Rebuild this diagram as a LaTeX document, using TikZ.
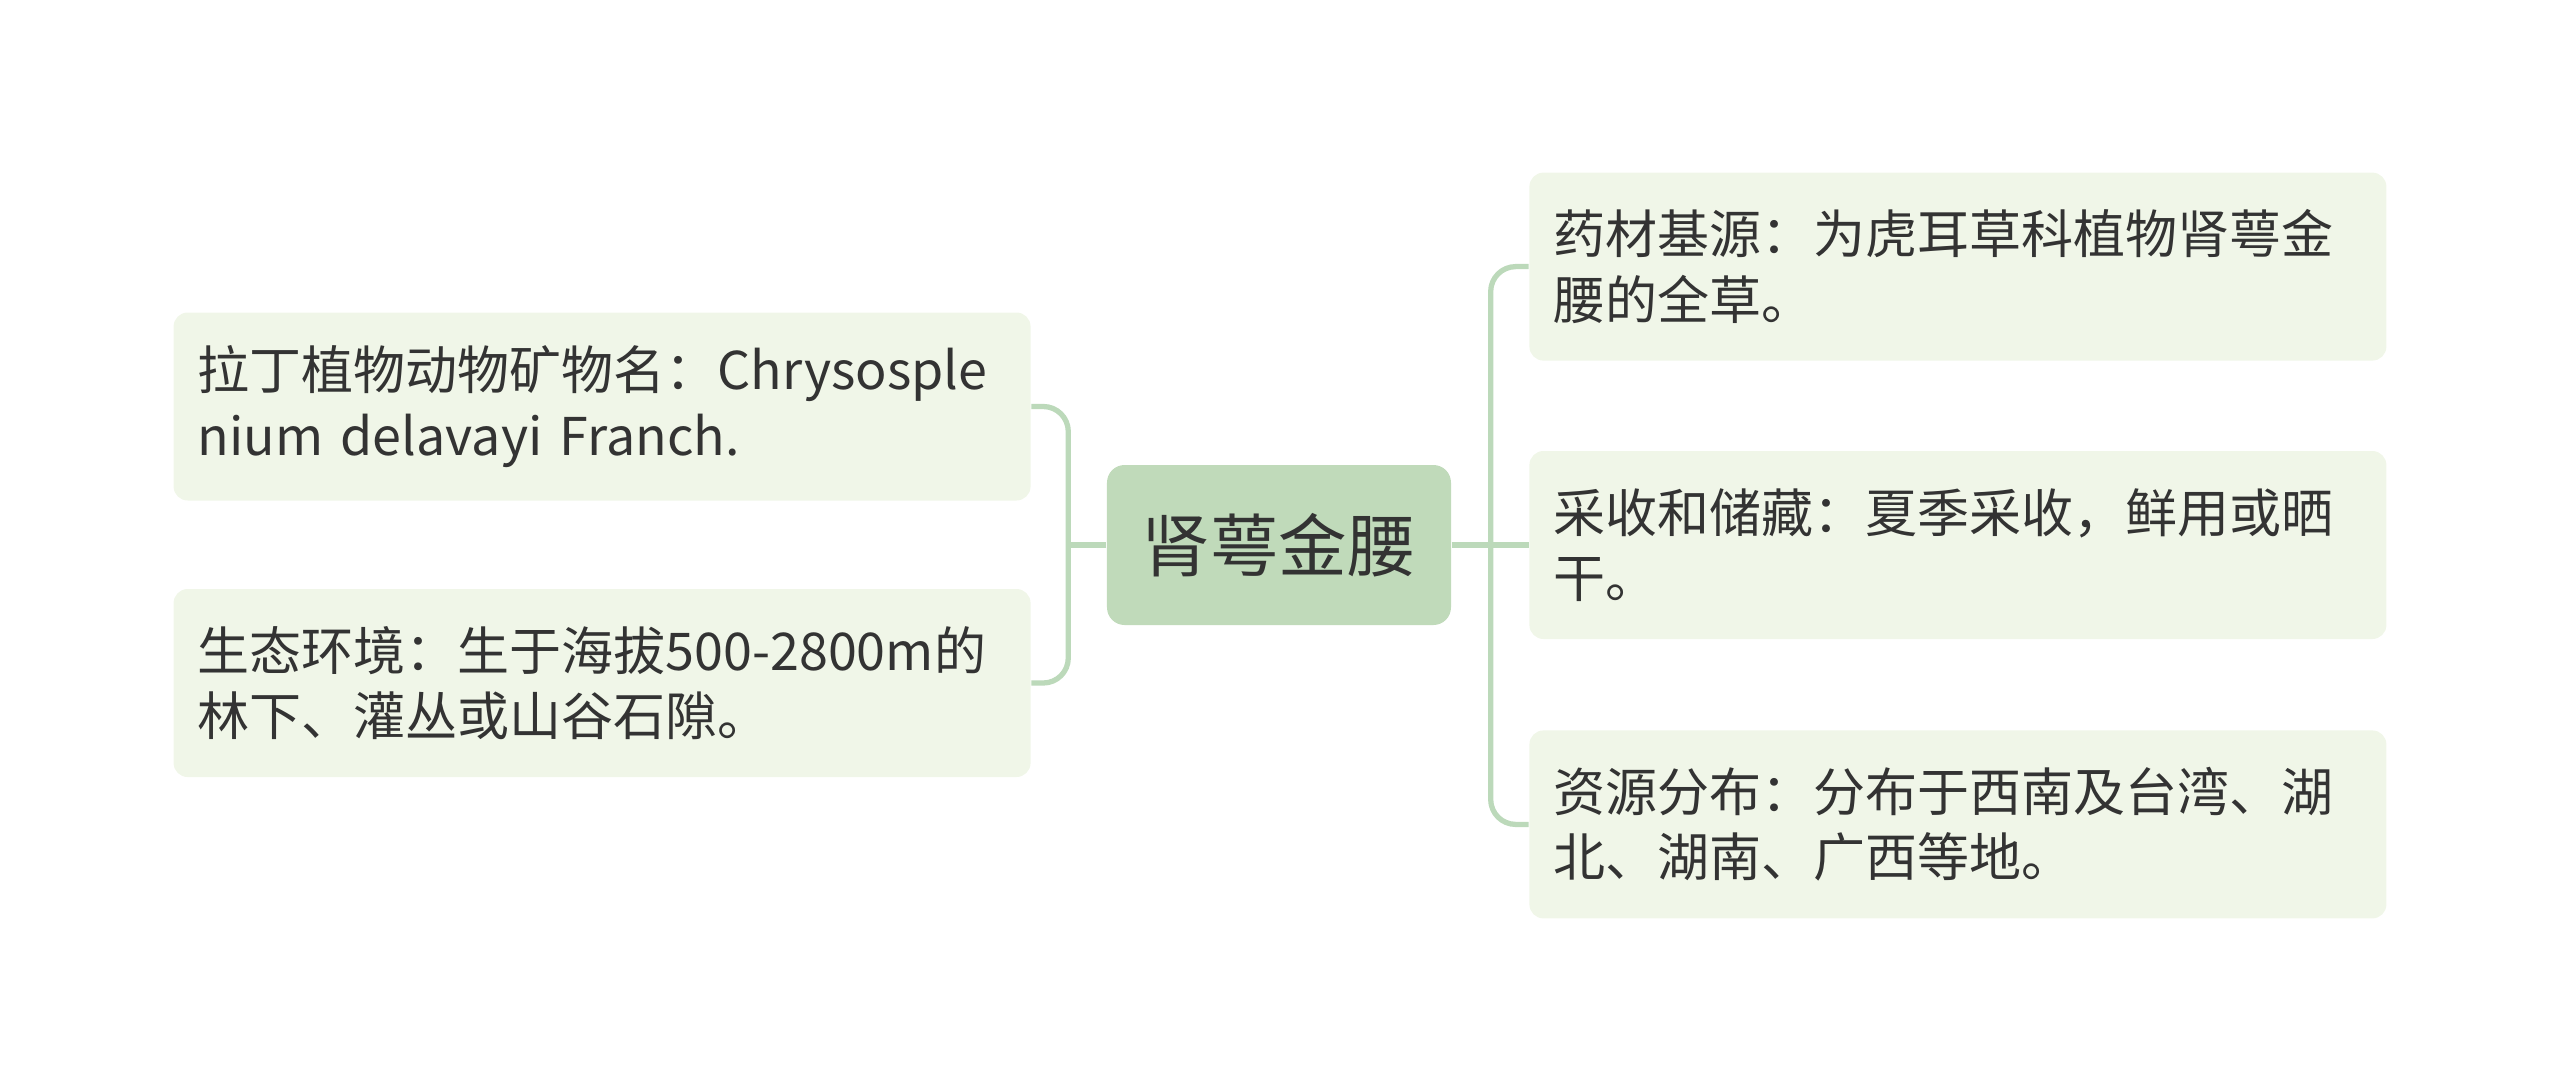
\documentclass[tikz,border=0pt]{standalone}
\usepackage{fontspec}
\setmainfont{Noto Sans CJK SC}
\usetikzlibrary{positioning}
\definecolor{leafgreen}{HTML}{F0F6E8}
\definecolor{rootgreen}{HTML}{C0DABA}
\definecolor{linkgreen}{HTML}{BCD9BA}
\definecolor{inkgray}{HTML}{333333}

\begin{document}
\begin{tikzpicture}[
      leafbox/.style={fill=leafgreen, text width=8.09cm, align=left, rounded corners=4pt, minimum height=1.88cm, inner xsep=0.24cm, text=inkgray, font=\fontsize{14.8pt}{18.6pt}\selectfont},
      rootbox/.style={fill=rootgreen, minimum width=3.44cm, minimum height=1.6cm, rounded corners=5pt, text=inkgray, font=\fontsize{19.5pt}{24pt}\selectfont},
      link/.style={linkgreen, line width=1.5pt, rounded corners=0.25cm}
    ]
      \useasboundingbox (-12.79,-5.45) rectangle (12.81,5.45);
      \node [rootbox] (root) at (0,0) {肾萼金腰};
      \node [leafbox, right=0.77cm of root] (R2) {采收和储藏：夏季采收，鲜用或晒\\干。};
      \node [leafbox, above=0.89cm of R2] (R1) {药材基源：为虎耳草科植物肾萼金\\腰的全草。};
      \node [leafbox, below=0.9cm of R2] (R3) {资源分布：分布于西南及台湾、湖\\北、湖南、广西等地。};
      \node [leafbox, left=0.75cm of root, yshift=1.385cm] (L1) {拉丁植物动物矿物名：Chrysosple\\nium delavayi Franch.};
      \node [leafbox, left=0.75cm of root, yshift=-1.38cm] (L2) {生态环境：生于海拔500-2800m的\\林下、灌丛或山谷石隙。};
      
      \draw [link] (L1.east) -- ++(0.37,0) coordinate (lbar) |- (L2.east);
      \draw [link] (root.west) -- (root.west -| lbar);
      \draw [link] (R1.west) -- ++(-0.38,0) |- (R3.west);
      \draw [link] (root.east) -- (R2.west);
    \end{tikzpicture}
\end{document}
